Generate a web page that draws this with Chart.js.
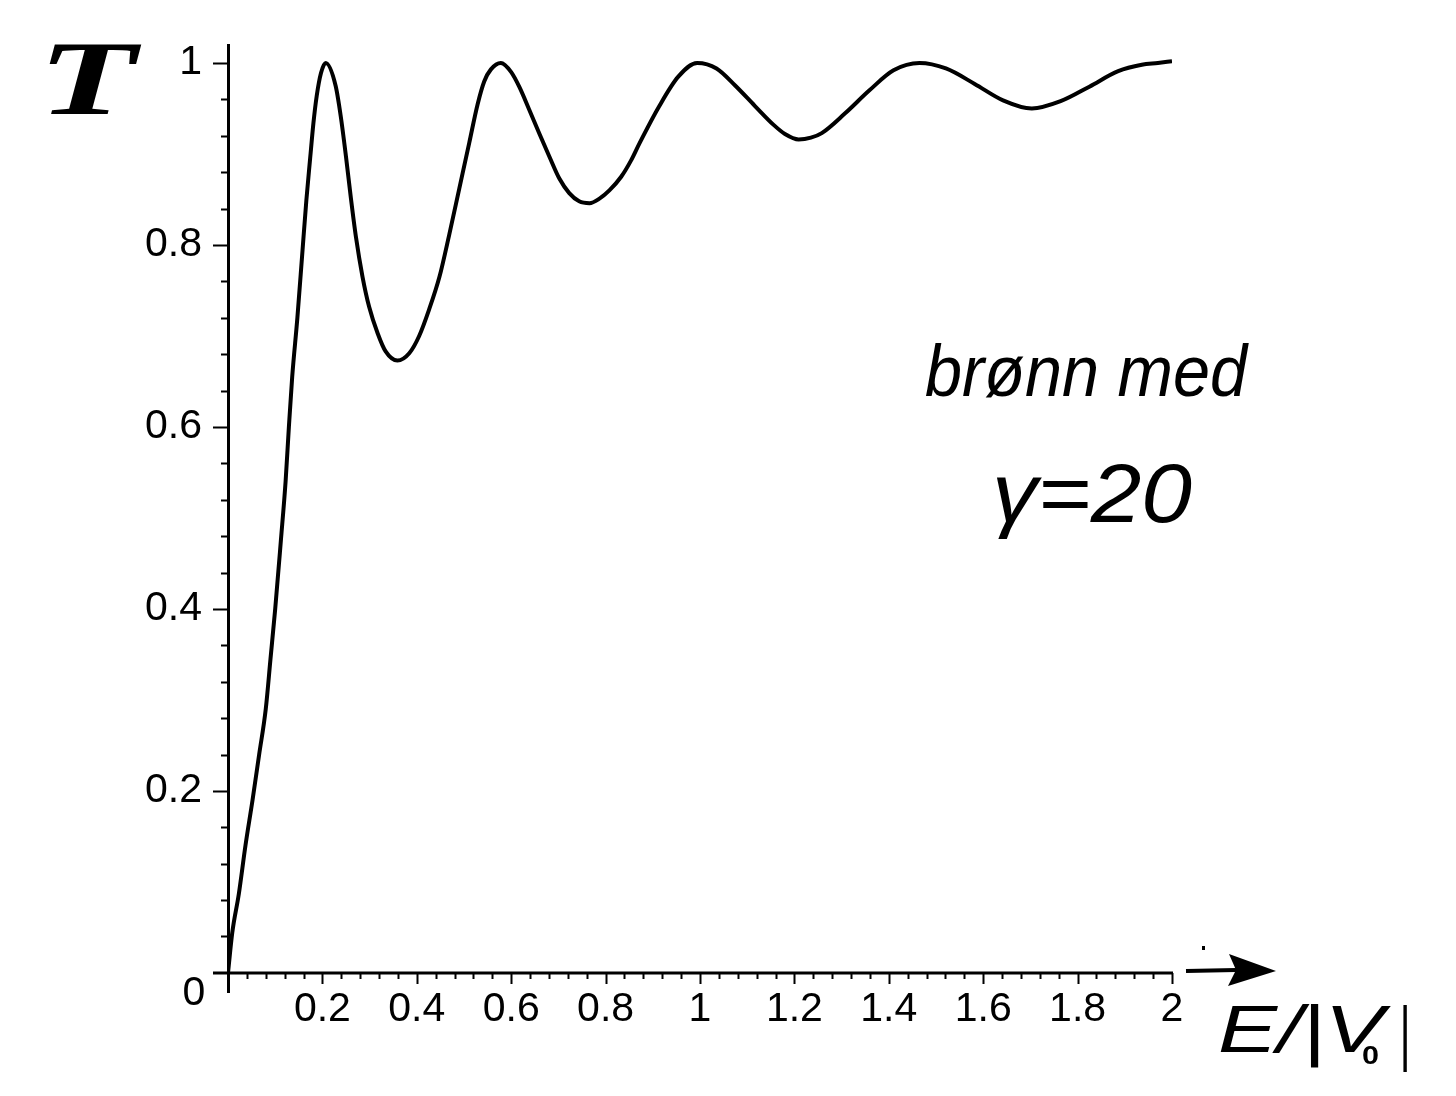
<!DOCTYPE html>
<html>
<head>
<meta charset="utf-8">
<script src="https://cdn.jsdelivr.net/npm/chart.js@4.4.1/dist/chart.umd.min.js"></script>
<style>
  body { margin: 0; background: #fff; }
  canvas { display: block; }
</style>
</head>
<body>
<canvas id="tChart" width="1456" height="1096"></canvas>
<script>
// E/|V0| (x) og T (y), lest av figuren
const energy = [0, 0.009, 0.023, 0.037, 0.052, 0.066, 0.08, 0.09, 0.10, 0.112, 0.122, 0.129, 0.136,
  0.147, 0.158, 0.166, 0.174, 0.181, 0.188, 0.197, 0.207, 0.228, 0.239, 0.250, 0.260, 0.271, 0.285,
  0.299, 0.317, 0.334, 0.359, 0.384, 0.405, 0.426, 0.448, 0.469, 0.490, 0.511, 0.529, 0.543, 0.557,
  0.578, 0.600, 0.617, 0.638, 0.660, 0.681, 0.702, 0.723, 0.744, 0.766, 0.787, 0.808, 0.833, 0.854,
  0.872, 0.913, 0.954, 0.994, 1.035, 1.075, 1.116, 1.156, 1.18, 1.209, 1.235, 1.258, 1.308, 1.359,
  1.41, 1.465, 1.521, 1.582, 1.642, 1.703, 1.764, 1.825, 1.886, 1.936, 1.97, 2.0];
const trans = [0, 0.044, 0.087, 0.14, 0.19, 0.24, 0.29, 0.345, 0.40, 0.475, 0.54, 0.60, 0.655,
  0.72, 0.795, 0.849, 0.895, 0.934, 0.964, 0.989, 1.0, 0.975, 0.941, 0.897, 0.853, 0.809, 0.765,
  0.732, 0.703, 0.683, 0.673, 0.681, 0.700, 0.729, 0.765, 0.812, 0.862, 0.912, 0.955, 0.98, 0.993,
  1.0, 0.990, 0.974, 0.949, 0.922, 0.897, 0.873, 0.857, 0.848, 0.846, 0.851, 0.860, 0.875, 0.893,
  0.912, 0.952, 0.985, 1.0, 0.994, 0.975, 0.953, 0.932, 0.922, 0.916, 0.918, 0.923, 0.945, 0.970,
  0.992, 1.0, 0.994, 0.977, 0.959, 0.95, 0.958, 0.974, 0.991, 0.998, 1.0, 1.002];

const xTicks = [0.2, 0.4, 0.6, 0.8, 1, 1.2, 1.4, 1.6, 1.8, 2];
const yTicks = [0.2, 0.4, 0.6, 0.8, 1];
const minorStep = 0.04;

const tickFont = { family: "Liberation Sans", size: 41, lineHeight: 0.8 };

function fmt(v) {
  return Number.isInteger(v) ? String(v) : v.toFixed(1);
}

// tekst strukket til en gitt bredde
function fitText(ctx, text, x, y, width, font) {
  ctx.save();
  ctx.font = font;
  const w = ctx.measureText(text).width;
  ctx.translate(x, y);
  ctx.scale(width / w, 1);
  ctx.fillText(text, 0, 0);
  ctx.restore();
}

// ---- akser, tick-merker og håndskrevne etiketter ----
const decor = {
  id: "decor",
  afterDraw(chart) {
    const ctx = chart.ctx;
    const xs = chart.scales.x;
    const ys = chart.scales.y;
    const x0 = xs.getPixelForValue(0);
    const y0 = ys.getPixelForValue(0);

    ctx.save();
    ctx.strokeStyle = "#000";
    ctx.fillStyle = "#000";

    // x-aksen ved T = 0
    ctx.lineWidth = 3;
    ctx.beginPath();
    ctx.moveTo(x0 - 15, y0);
    ctx.lineTo(xs.getPixelForValue(2) + 1, y0);
    ctx.stroke();

    ctx.lineWidth = 2;
    ctx.beginPath();
    for (let i = 1; i <= 50; i++) {
      const v = i * minorStep;
      const px = Math.round(xs.getPixelForValue(v)) + 0.5;
      const len = i % 5 === 0 ? 11 : 6;
      ctx.moveTo(px, y0);
      ctx.lineTo(px, y0 + len);
    }
    for (let i = 1; i <= 25; i++) {
      const v = i * minorStep;
      const py = Math.round(ys.getPixelForValue(v)) + 0.5;
      const len = i % 5 === 0 ? 15 : 7;
      ctx.moveTo(x0, py);
      ctx.lineTo(x0 - len, py);
    }
    ctx.stroke();

    // "0" i hjørnet
    ctx.font = "41px 'Liberation Sans'";
    ctx.textAlign = "center";
    ctx.textBaseline = "middle";
    ctx.fillText("0", 194, 994);

    // pil etter x-aksen
    ctx.lineWidth = 4;
    ctx.beginPath();
    ctx.moveTo(1186, 971);
    ctx.lineTo(1236, 970);
    ctx.stroke();
    ctx.beginPath();
    ctx.moveTo(1229, 954);
    ctx.lineTo(1276, 971);
    ctx.lineTo(1228, 986);
    ctx.lineTo(1236, 970);
    ctx.closePath();
    ctx.fill();
    ctx.fillRect(1202, 946, 3, 4);

    ctx.textAlign = "left";
    ctx.textBaseline = "alphabetic";

    // T
    fitText(ctx, "T", 38, 114, 98, "bold italic 106px 'Liberation Serif'");

    // E/|V0|
    fitText(ctx, "E/|V", 1218, 1052, 166, "italic 66px 'Liberation Sans'");
    fitText(ctx, "0", 1362, 1064, 17, "bold 26px 'Liberation Sans'");
    fitText(ctx, "|", 1399, 1056, 11, "italic 70px 'Liberation Sans'");

    // merknad
    fitText(ctx, "brønn med", 925, 396, 322, "italic 72px 'Liberation Sans'");
    fitText(ctx, "γ=20", 992, 522, 200, "italic 84px 'Liberation Sans'");

    ctx.restore();
  }
};

const ctx = document.getElementById("tChart");
new Chart(ctx, {
  type: "scatter",
  data: {
    datasets: [{
      data: energy.map((e, i) => ({ x: e, y: trans[i] })),
      showLine: true,
      borderColor: "#000",
      borderWidth: 4,
      pointRadius: 0,
      cubicInterpolationMode: "monotone"
    }]
  },
  options: {
    responsive: false,
    animation: false,
    layout: { padding: { left: 0, right: 284, top: 45, bottom: 0 } },
    plugins: { legend: { display: false }, tooltip: { enabled: false } },
    scales: {
      x: {
        type: "linear",
        min: 0,
        max: 2,
        position: "bottom",
        afterFit: s => { s.height = 104; },
        afterBuildTicks: s => { s.ticks = xTicks.map(v => ({ value: v })); },
        border: { display: false },
        grid: { display: false, drawTicks: false },
        ticks: {
          padding: 1,
          color: "#000",
          font: tickFont,
          maxRotation: 0,
          autoSkip: false,
          callback: v => fmt(v)
        }
      },
      y: {
        type: "linear",
        min: -0.021,
        max: 1.0198,
        afterFit: s => { s.width = 228; },
        afterBuildTicks: s => { s.ticks = yTicks.map(v => ({ value: v })); },
        border: { display: true, color: "#000", width: 3 },
        grid: { display: false, drawTicks: false },
        ticks: {
          padding: 26,
          color: "#000",
          font: tickFont,
          autoSkip: false,
          callback: v => fmt(v)
        }
      }
    }
  },
  plugins: [decor]
});
</script>
</body>
</html>
